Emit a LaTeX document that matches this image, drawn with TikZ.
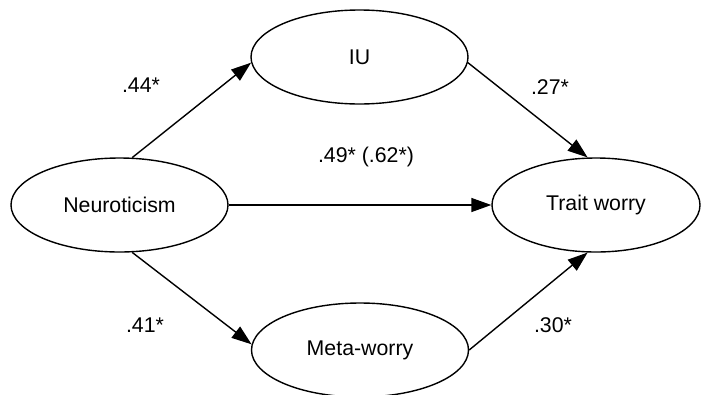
\documentclass[tikz,border=0pt]{standalone}
\usepackage{fontspec}
\setmainfont{Liberation Sans}
\usetikzlibrary{shapes.geometric,arrows.meta}
\begin{document}
\begin{tikzpicture}[x=1pt,y=-1pt,
  var/.style={draw,ellipse,line width=1.4pt,inner sep=0pt,minimum width=217pt,minimum height=94pt,font=\fontsize{21.3}{25}\selectfont},
  path/.style={line width=1.4pt,-{Triangle[length=20pt,width=14pt]}},
  coef/.style={font=\fontsize{21.3}{25}\selectfont}]
\useasboundingbox (0,0) rectangle (701,394);
\node[var] (neu) at (119.5,205) {Neuroticism};
\node[var,minimum width=208pt] (tw) at (596,205) {Trait worry};
\node[var] (iu) at (359.5,57) {IU};
\node[var] (mw) at (360,350) {Meta-worry};
\draw[path] (neu.75) -- (iu.183);
\draw[path] (iu.357) -- (tw.100);
\draw[path] (neu.east) -- (tw.west);
\draw[path] (neu.-75) -- (mw.177);
\draw[path] (mw.east) -- (tw.-100);
\node[coef] (l1) at (141,85) {.44*};
\node[coef] (l2) at (550,87) {.27*};
\node[coef] (l3) at (366,157) {.49* (.62*)};
\node[coef] (l4) at (145,325) {.41*};
\node[coef] (l5) at (553,325) {.30*};
\end{tikzpicture}
\end{document}
